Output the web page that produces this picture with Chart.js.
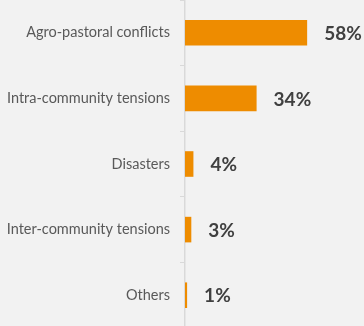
<!DOCTYPE html>
<html>
<head>
<meta charset="utf-8">
<script src="https://cdn.jsdelivr.net/npm/chart.js@4"></script>
<style>
    html, body { margin: 0; padding: 0; background: #f2f2f2; overflow: hidden; }
    #wrap { width: 364px; height: 326px; overflow: hidden; }
</style>
</head>
<body>
<div id="wrap"><canvas id="chart" width="364" height="328"></canvas></div>
<script>
const categories = ['Agro-pastoral conflicts', 'Intra-community tensions', 'Disasters', 'Inter-community tensions', 'Others'];
const shares = [58, 34, 4, 3, 1];

const valueLabels = {
    id: 'valueLabels',
    afterDatasetsDraw(chart) {
        const ctx = chart.ctx;
        const meta = chart.getDatasetMeta(0);
        ctx.save();
        ctx.font = 'bold 19px Lato';
        ctx.fillStyle = '#404040';
        ctx.textBaseline = 'middle';
        ctx.textAlign = 'left';
        meta.data.forEach((bar, i) => {
            ctx.fillText(shares[i] + '%', bar.x + 17, bar.y + 1);
        });
        ctx.restore();
    }
};

new Chart(document.getElementById('chart').getContext('2d'), {
    type: 'bar',
    data: {
        labels: categories,
        datasets: [{
            data: shares,
            backgroundColor: '#ee8c00',
            borderWidth: 0,
            barPercentage: 0.39,
            categoryPercentage: 1
        }]
    },
    options: {
        indexAxis: 'y',
        responsive: false,
        animation: false,
        layout: { padding: 0 },
        plugins: {
            legend: { display: false },
            tooltip: { enabled: false }
        },
        scales: {
            x: {
                display: false,
                min: 0,
                max: 85
            },
            y: {
                afterFit(scale) {
                    scale.width = 185;
                    scale.paddingTop = 0;
                    scale.paddingBottom = 0;
                },
                grid: {
                    offset: true,
                    drawOnChartArea: false,
                    tickLength: 5,
                    color: '#d9d9d9'
                },
                border: { display: true, color: '#d9d9d9', width: 1.5 },
                ticks: {
                    color: '#595959',
                    padding: 10,
                    font: { family: 'Lato', size: 14.5 }
                }
            }
        }
    },
    plugins: [valueLabels]
});
</script>
</body>
</html>
